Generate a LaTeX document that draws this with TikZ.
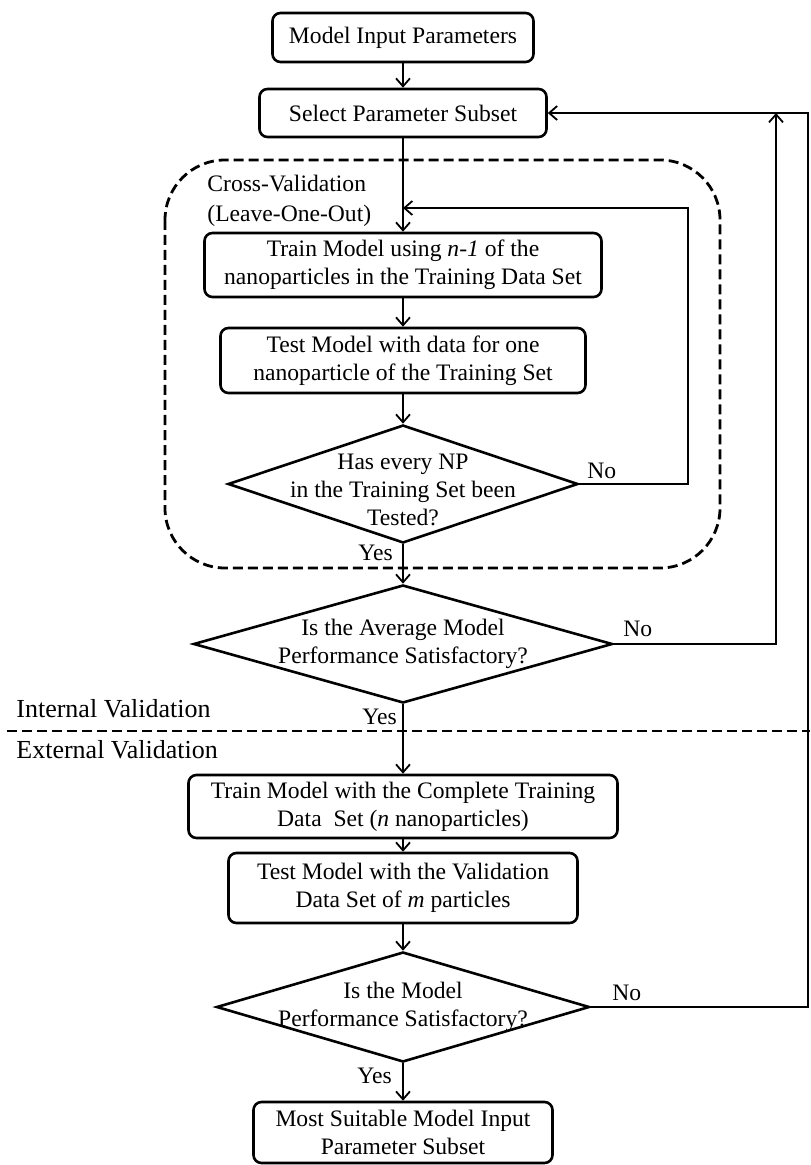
\documentclass[tikz,border=0pt]{standalone}
\usepackage{fontspec}
\setmainfont{Liberation Serif}
\usetikzlibrary{shapes.geometric,arrows.meta}

\begin{document}
\begin{tikzpicture}[x=0.5pt,y=-0.5pt,
  every node/.style={font=\fontsize{11.8}{14}\selectfont},
  box/.style={draw=black,rounded corners=4pt,line width=1.3pt,align=center,inner sep=0pt},
  decision/.style={draw=black,shape=diamond,line width=1.3pt,inner sep=0pt},
  flow/.style={line width=0.9pt,-{Straight Barb[length=4pt,width=7pt]}},
  zone/.style={line width=1.4pt,dash pattern=on 5pt off 2.5pt},
  tag/.style={anchor=base west,inner sep=0pt},
  side/.style={font=\fontsize{13}{15}\selectfont,anchor=base west,inner sep=0pt}]
\useasboundingbox (0,0) rectangle (810,1165);

% dashed regions
\draw[zone,rounded corners=30pt] (165,160) rectangle (720,568);
\draw[zone] (7,731) -- (810,731);

\node[box,minimum width=130.5pt,minimum height=24.5pt] (input) at (403,37.5) {Model Input Parameters};
\node[box,minimum width=143.5pt,minimum height=24pt] (subset) at (403,113) {Select Parameter Subset};
\node[box,minimum width=198.5pt,minimum height=32pt] (train) at (403,265) {Train Model using \textit{n-1} of the\\nanoparticles in the Training Data Set};
\node[box,minimum width=182.5pt,minimum height=32.5pt] (test) at (403,360.5) {Test Model with data for one\\nanoparticle of the Training Set};
\node[decision,minimum width=175pt,minimum height=59pt,
  label={[align=center,yshift=-3pt]center:Has every NP\\in the Training Set been\\Tested?}] (check1) at (403,484) {};
\node[decision,minimum width=209.5pt,minimum height=59pt,
  label={[align=center]center:Is the Average Model\\Performance Satisfactory?}] (check2) at (403,644) {};
\node[box,minimum width=214.5pt,minimum height=31.5pt] (trainall) at (403,806.5) {Train Model with the Complete Training\\Data\ \ Set (\textit{n} nanoparticles)};
\node[box,minimum width=174.5pt,minimum height=35pt] (testval) at (403,888) {Test Model with the Validation\\Data Set of \textit{m} particles};
\node[decision,minimum width=186.5pt,minimum height=55pt,
  label={[align=center]center:Is the Model\\Performance Satisfactory?}] (check3) at (403,1007) {};
\node[box,minimum width=149.5pt,minimum height=30.5pt] (best) at (403,1132.5) {Most Suitable Model Input\\Parameter Subset};

\node[anchor=north west,align=left,inner sep=0pt,font=\fontsize{11.8}{15}\selectfont] (cv) at (207,175) {Cross-Validation\\(Leave-One-Out)};
\node[side] (internal) at (16,717) {Internal Validation};
\node[side] (external) at (16,758) {External Validation};

\node[tag] (no1) at (587,478) {No};
\node[tag] (no2) at (623,636) {No};
\node[tag] (no3) at (612,1000) {No};
\node[tag] (yes1) at (358,560) {Yes};
\node[tag] (yes2) at (362,724) {Yes};
\node[tag] (yes3) at (357,1083) {Yes};

\coordinate (back1) at (688,208);
\coordinate (join1) at (403,208);
\coordinate (back2) at (776,113);
\coordinate (back3) at (808,113);

\draw[flow] (input) -- (subset);
\draw[flow] (subset) -- (train);
\draw[flow] (train) -- (test);
\draw[flow] (test) -- (check1);
\draw[flow] (check1) -- (check2);
\draw[flow] (check2) -- (trainall);
\draw[flow] (trainall) -- (testval);
\draw[flow] (testval) -- (check3);
\draw[flow] (check3) -- (best);

\draw[flow] (check1.east) -| (back1) -- (join1);
\draw[flow] (check2.east) -| (back2);
\draw[flow] (check3.east) -| (back3) -- (subset.east);
\end{tikzpicture}
\end{document}
